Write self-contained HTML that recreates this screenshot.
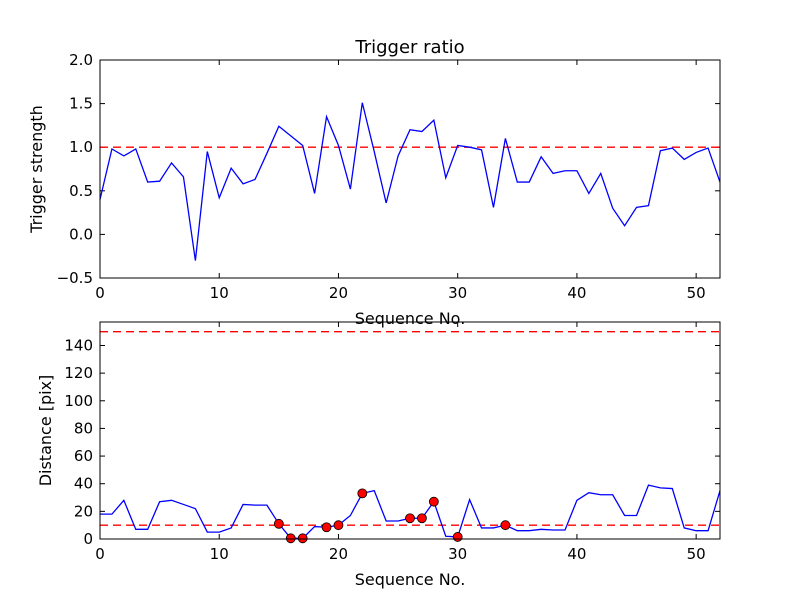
<!DOCTYPE html>
<html><head><meta charset="utf-8"><style>body{margin:0;background:#fff}svg{display:block;font-family:"DejaVu Sans","Liberation Sans",sans-serif}</style></head>
<body>
<svg id="c" width="800" height="600" viewBox="0 0 800 600"></svg>
<script>
const seq = Array.from({length:53},(_,i)=>i);
const strength = [0.4,0.98,0.9,0.98,0.6,0.61,0.82,0.66,-0.3,0.95,0.42,0.76,0.58,0.63,0.93,1.24,1.13,1.02,0.47,1.35,1.02,0.52,1.51,0.95,0.36,0.9,1.2,1.18,1.31,0.65,1.02,1.0,0.97,0.31,1.1,0.6,0.6,0.89,0.7,0.73,0.73,0.47,0.7,0.3,0.1,0.31,0.33,0.96,0.99,0.86,0.94,0.99,0.6];
const distance = [18,18,28,7,7,27,28,25,22,5,5,8,25,24.5,24.5,11,0.5,0.5,9,8.5,10,17,33,35,13,13,15,15,27,2,1.5,28.5,8,8,10,6,6,7,6.5,6.5,28,33.5,32,32,17,17,39,37,36.5,8,6,6,35];
const markerIdx = [15,16,17,19,20,22,26,27,28,30,34];
const topTicks = [-0.5,0.0,0.5,1.0,1.5,2.0];
const botTicks = [0,20,40,60,80,100,120,140];
const xTicks = [0,10,20,30,40,50];
const strengthThreshold = 1.0;
const distThresholds = [10,150];

const svg = document.getElementById('c');
const NS = 'http://www.w3.org/2000/svg';
function mk(tag, attrs, parent){const e=document.createElementNS(NS,tag);for(const k in attrs)e.setAttribute(k,attrs[k]);(parent||svg).appendChild(e);return e;}
const X0=100,X1=720;
const sx = v => X0 + (v-0)/(52-0)*(X1-X0);
const topY = v => 278 - (v+0.5)/2.5*(278-60);
const botY = v => 539 - v/157*(539-322);

function axes(name, yTop, yBot, ticks, sy, fmt, ylabel, title){
  const g = mk('g',{});
  
  
  ticks.forEach(t=>{
    const y=sy(t);
    mk('line',{x1:X0,x2:X0+5,y1:y,y2:y,stroke:'#000'},g);
    mk('line',{x1:X1,x2:X1-5,y1:y,y2:y,stroke:'#000'},g);
    const tx=mk('text',{x:X0-7,y:y+5,'text-anchor':'end','font-size':'15'},g);tx.textContent=fmt(t);
    
    
  });
  xTicks.forEach(t=>{
    const x=sx(t);
    mk('line',{x1:x,x2:x,y1:yBot,y2:yBot-5,stroke:'#000'},g);
    mk('line',{x1:x,x2:x,y1:yTop,y2:yTop+5,stroke:'#000'},g);
    const tx=mk('text',{x:x,y:yBot+20,'text-anchor':'middle','font-size':'15'},g);tx.textContent=t;
    
    
  });
  const xl=mk('text',{x:410,y:yBot+46,'text-anchor':'middle','font-size':'16'},g);xl.textContent='Sequence No.';
  
  
  const yc=(yTop+yBot)/2;
  const yl=mk('text',{x:0,y:0,'text-anchor':'middle','font-size':'16',transform:`translate(${ylabel[1]},${yc}) rotate(-90)`},g);yl.textContent=ylabel[0];
  
  
  if(title){const tt=mk('text',{x:410,y:yTop-7,'text-anchor':'middle','font-size':'18'},g);tt.textContent=title;
    
    }
  return g;
}
function line(vals, sy, name){
  const p=mk('polyline',{points:vals.map((v,i)=>sx(seq[i])+','+sy(v)).join(' '),fill:'none',stroke:'#0000ff','stroke-width':'1.3'});
  
  
}
function hline(v, sy, name){
  const l=mk('line',{x1:X0,x2:X1,y1:sy(v),y2:sy(v),stroke:'#ff0000','stroke-width':'1.3','stroke-dasharray':'8,5'});
  
  
}
axes('top-axes',60,278,topTicks,topY,t=>t.toFixed(1).replace('-','\u2212'),['Trigger strength',42],'Trigger ratio');
hline(strengthThreshold, topY, 'strength-threshold-line');
line(strength, topY, 'strength-line');
const f1=mk('rect',{x:X0,y:60,width:X1-X0,height:218,fill:'none',stroke:'#000','stroke-width':'1'});


axes('bottom-axes',322,539,botTicks,botY,t=>String(t),['Distance [pix]',51],null);
distThresholds.forEach(v=>hline(v, botY, 'distance-threshold-line'));
line(distance, botY, 'distance-line');
markerIdx.forEach(i=>{
  const c=mk('circle',{cx:sx(seq[i]),cy:botY(distance[i]),r:4.5,fill:'#ff0000',stroke:'#000','stroke-width':'0.8'});
  
  
});
const f2=mk('rect',{x:X0,y:322,width:X1-X0,height:217,fill:'none',stroke:'#000','stroke-width':'1'});


</script>
</body></html>
